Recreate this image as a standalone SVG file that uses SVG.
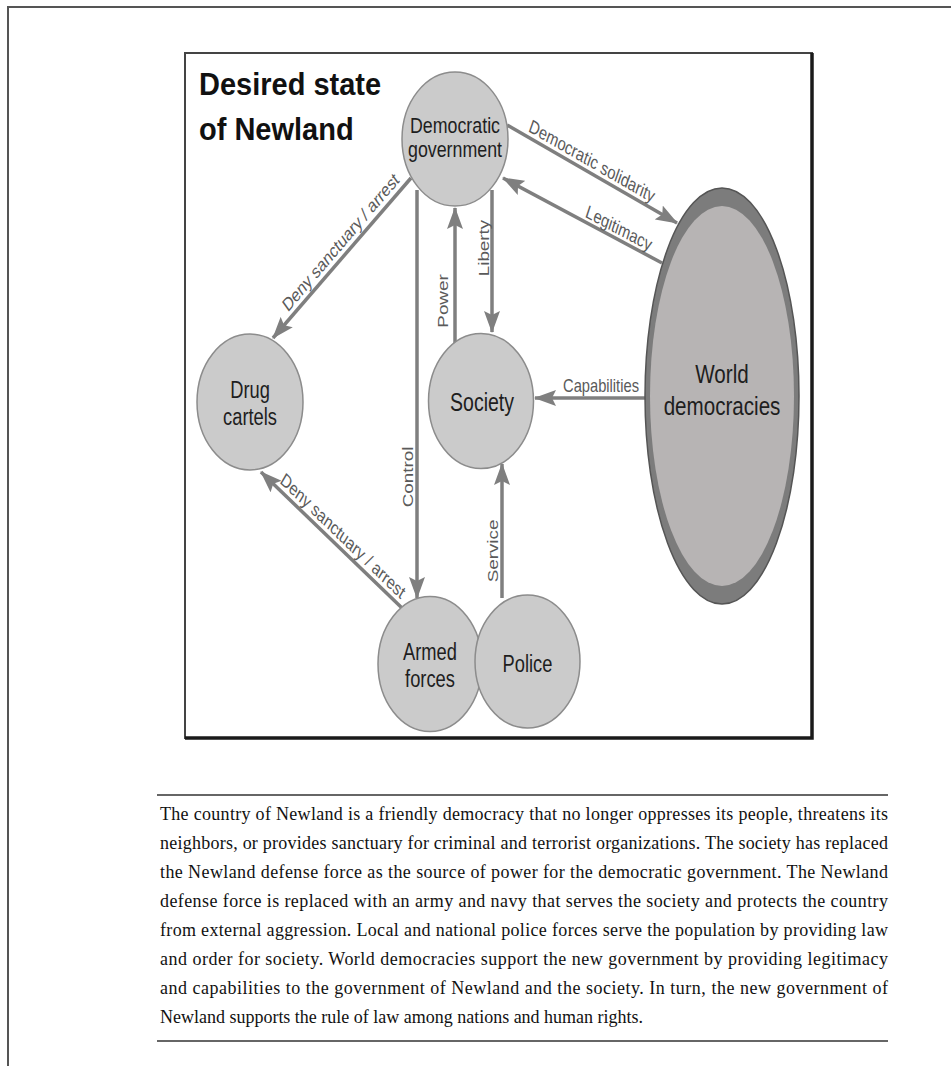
<svg xmlns="http://www.w3.org/2000/svg" width="951" height="1066" viewBox="0 0 951 1066">
  <defs>
    <marker id="arrow" viewBox="0 0 22 16" refX="21" refY="8" markerWidth="22" markerHeight="16" markerUnits="userSpaceOnUse" orient="auto">
      <path d="M0,0 L22,8 L0,16 L4,8 Z" fill="#7f7f7f"/>
    </marker>
    <style>
      .node { fill: #cbcbcb; stroke: #8c8c8c; stroke-width: 1.5; }
      .ntext { font-family: "Liberation Sans", Arial, sans-serif; font-size: 18.3px; fill: #1e1e1e; text-anchor: middle; }
      .edge { stroke: #7f7f7f; stroke-width: 3.5; fill: none; marker-end: url(#arrow); }
      .elabel { font-family: "Liberation Sans", Arial, sans-serif; font-size: 14.7px; fill: #5a5a5a; text-anchor: middle; }
      .para { font-family: "Liberation Serif", "Times New Roman", serif; font-size: 18px; fill: #111; }
    </style>
  </defs>

  <rect x="0" y="0" width="951" height="1066" fill="#ffffff"/>

  <!-- page edges -->
  <path d="M8,1066 L8,7 L951,7" fill="none" stroke="#555" stroke-width="2"/>

  <!-- figure frame -->
  <rect x="185" y="53" width="627" height="685" fill="#ffffff" stroke="#444" stroke-width="2"/>
  <path d="M812,53 L812,738 L185,738" fill="none" stroke="#1a1a1a" stroke-width="3.5"/>

  <!-- title -->
  <g id="title" font-family="Liberation Sans, Arial, sans-serif" font-weight="bold" font-size="29" fill="#111">
    <text transform="translate(199,95) scale(1,1.06)">Desired state</text>
    <text transform="translate(199,140) scale(1,1.06)">of Newland</text>
  </g>

  <!-- connectors; figure text is drawn 1.28x taller than wide -->
  <g id="connectors">
    <line class="edge" x1="411" y1="178" x2="273" y2="338"/>
    <line class="edge" x1="507" y1="125" x2="677" y2="223"/>
    <line class="edge" x1="662" y1="263" x2="503" y2="178"/>
    <line class="edge" x1="417" y1="190" x2="417" y2="598"/>
    <line class="edge" x1="455" y1="345" x2="455" y2="208"/>
    <line class="edge" x1="492" y1="190" x2="492" y2="332"/>
    <line class="edge" x1="648" y1="398" x2="535" y2="398"/>
    <line class="edge" x1="502" y1="598" x2="502" y2="464"/>
    <line class="edge" x1="402" y1="608" x2="261" y2="472"/>

    <text class="elabel" transform="translate(344,247) scale(1,1.28) rotate(-42.4)">Deny sanctuary / arrest</text>
    <text class="elabel" transform="translate(590,167) scale(1,1.28) rotate(24.3)">Democratic solidarity</text>
    <text class="elabel" transform="translate(617,234) scale(1,1.28) rotate(22.6)">Legitimacy</text>
    <text class="elabel" transform="translate(413,477) scale(1,1.28) rotate(-90)">Control</text>
    <text class="elabel" transform="translate(448,301) scale(1,1.28) rotate(-90)">Power</text>
    <text class="elabel" transform="translate(489,248) scale(1,1.28) rotate(-90)">Liberty</text>
    <text class="elabel" transform="translate(601,392) scale(1,1.28)">Capabilities</text>
    <text class="elabel" transform="translate(498,551) scale(1,1.28) rotate(-90)">Service</text>
    <text class="elabel" transform="translate(340,541) scale(1,1.28) rotate(37)">Deny sanctuary / arrest</text>
  </g>

  <!-- nodes -->
  <g id="democratic-government">
    <ellipse class="node" cx="455" cy="139" rx="53" ry="67"/>
    <text class="ntext" style="font-size:17.8px" transform="translate(455,133) scale(1,1.28)">Democratic</text>
    <text class="ntext" style="font-size:17.8px" transform="translate(455,157) scale(1,1.28)">government</text>
  </g>

  <g id="drug-cartels">
    <ellipse class="node" cx="250" cy="402" rx="53" ry="68"/>
    <text class="ntext" transform="translate(250,398) scale(1,1.28)">Drug</text>
    <text class="ntext" transform="translate(250,425) scale(1,1.28)">cartels</text>
  </g>

  <g id="society">
    <ellipse class="node" cx="481" cy="401" rx="52.5" ry="67.5"/>
    <text class="ntext" style="font-size:19.5px" transform="translate(482,411) scale(1,1.28)">Society</text>
  </g>

  <g id="world-democracies">
    <ellipse cx="722" cy="396" rx="77" ry="208" fill="#7c7c7c" stroke="#555" stroke-width="1.5"/>
    <ellipse cx="722" cy="396" rx="72" ry="190" fill="#b7b4b4"/>
    <text class="ntext" style="font-size:20.6px" transform="translate(722,383) scale(1,1.28)">World</text>
    <text class="ntext" style="font-size:20.6px" transform="translate(722,415) scale(1,1.28)">democracies</text>
  </g>

  <g id="armed-forces">
    <ellipse class="node" cx="430" cy="664" rx="52" ry="67.5"/>
    <text class="ntext" transform="translate(430,660) scale(1,1.28)">Armed</text>
    <text class="ntext" transform="translate(430,687) scale(1,1.28)">forces</text>
  </g>

  <g id="police">
    <ellipse class="node" cx="527.5" cy="661.5" rx="52.5" ry="66.5"/>
    <text class="ntext" transform="translate(527.5,672) scale(1,1.28)">Police</text>
  </g>

  <!-- caption -->
  <g id="caption">
    <line x1="157" y1="795" x2="888" y2="795" stroke="#333" stroke-width="1.5"/>
    <text class="para" transform="translate(160,820) scale(1,1.07)" textLength="728" lengthAdjust="spacing">The country of Newland is a friendly democracy that no longer oppresses its people, threatens its</text>
    <text class="para" transform="translate(160,849) scale(1,1.07)" textLength="728" lengthAdjust="spacing">neighbors, or provides sanctuary for criminal and terrorist organizations. The society has replaced</text>
    <text class="para" transform="translate(160,878) scale(1,1.07)" textLength="728" lengthAdjust="spacing">the Newland defense force as the source of power for the democratic government. The Newland</text>
    <text class="para" transform="translate(160,907) scale(1,1.07)" textLength="728" lengthAdjust="spacing">defense force is replaced with an army and navy that serves the society and protects the country</text>
    <text class="para" transform="translate(160,936) scale(1,1.07)" textLength="728" lengthAdjust="spacing">from external aggression. Local and national police forces serve the population by providing law</text>
    <text class="para" transform="translate(160,965) scale(1,1.07)" textLength="728" lengthAdjust="spacing">and order for society. World democracies support the new government by providing legitimacy</text>
    <text class="para" transform="translate(160,994) scale(1,1.07)" textLength="728" lengthAdjust="spacing">and capabilities to the government of Newland and the society. In turn, the new government of</text>
    <text class="para" transform="translate(160,1023) scale(1,1.07)">Newland supports the rule of law among nations and human rights.</text>
    <line x1="157" y1="1041" x2="888" y2="1041" stroke="#333" stroke-width="1.5"/>
  </g>
</svg>
